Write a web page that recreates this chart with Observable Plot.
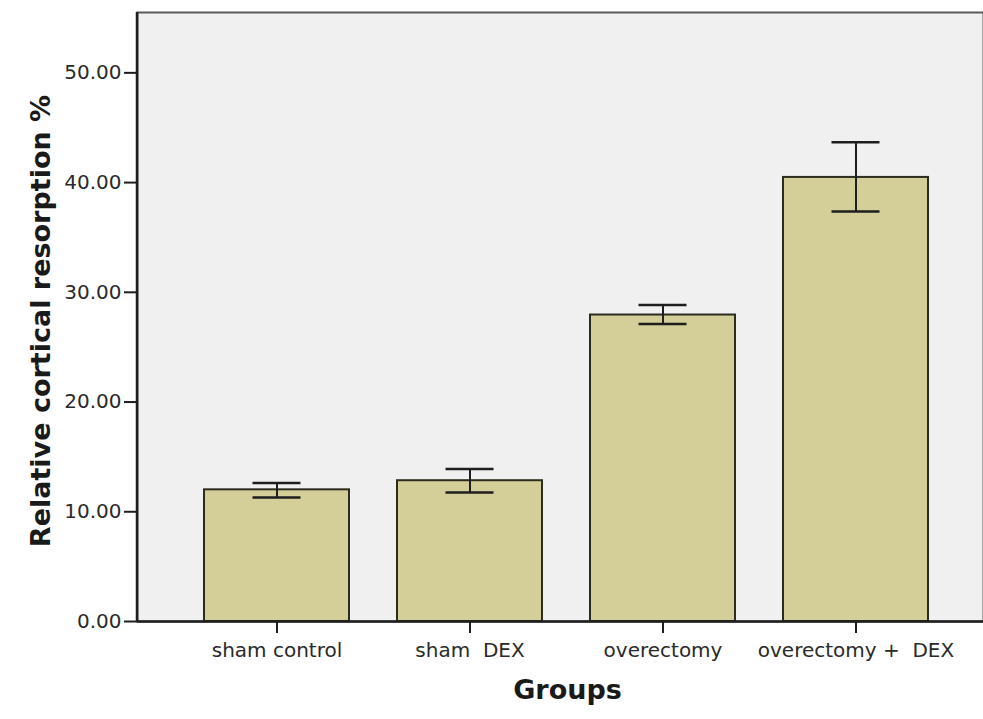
<!DOCTYPE html>
<html>
<head>
<meta charset="utf-8">
<script src="https://cdn.jsdelivr.net/npm/d3@7"></script>
<script src="https://cdn.jsdelivr.net/npm/@observablehq/plot@0.6"></script>
<style>
  html, body { margin: 0; padding: 0; background: #fff; }
  #chart svg { display: block; }
</style>
</head>
<body>
<div id="chart"></div>
<script>
const groups = ["sham control", "sham  DEX", "overectomy", "overectomy +  DEX"];
const means = [12.0, 12.83, 27.93, 40.47];
const upper = [12.62, 13.89, 28.84, 43.67];
const lower = [11.3, 11.76, 27.11, 37.37];
const yTicks = [0, 10, 20, 30, 40, 50];

const data = groups.map((g, i) => ({group: g, mean: means[i], hi: upper[i], lo: lower[i]}));

const font = "'DejaVu Sans', 'Liberation Sans', Arial, sans-serif";

// left axis line drawn along the frame's left edge
const leftAxisLine = (index, scales, values, dimensions) => {
  const {marginLeft, marginTop, height, marginBottom} = dimensions;
  const line = d3.create("svg:line")
    .attr("x1", marginLeft).attr("x2", marginLeft)
    .attr("y1", marginTop).attr("y2", height - marginBottom)
    .attr("stroke", "#1e1e1e").attr("stroke-width", 2.5);
  return line.node();
};

const chart = Plot.plot({
  width: 983,
  height: 719,
  marginLeft: 137,
  marginTop: 12,
  marginRight: 0,
  marginBottom: 98,
  style: {fontFamily: font, fontSize: "20px", color: "#222", background: "#fff"},
  x: {domain: groups, paddingInner: 0.249, paddingOuter: 0.316, align: 0.55, label: null},
  y: {domain: [0, 55.5], label: null},
  marks: [
    Plot.frame({fill: "#f0f0f0", stroke: "#5a5a5a", strokeWidth: 2}),
    Plot.barY(data, {x: "group", y: "mean", fill: "#d4cf98", stroke: "#2b2b1f", strokeWidth: 2}),
    Plot.ruleX(data, {x: "group", y1: "lo", y2: "hi", stroke: "#1e1e1e", strokeWidth: 2}),
    Plot.tickY(data, {x: "group", y: "hi", stroke: "#1e1e1e", strokeWidth: 2.5, insetLeft: 48.5, insetRight: 48.5}),
    Plot.tickY(data, {x: "group", y: "lo", stroke: "#1e1e1e", strokeWidth: 2.5, insetLeft: 48.5, insetRight: 48.5}),
    leftAxisLine,
    Plot.ruleY([0], {stroke: "#1e1e1e", strokeWidth: 2.5}),
    Plot.axisY({ticks: yTicks, tickFormat: d3.format(".2f"), tickSize: 13, tickPadding: 3, strokeWidth: 2, stroke: "#1e1e1e", fontSize: 20, fill: "#2a2a2a", label: null}),
    Plot.axisX({tickSize: 12, tickPadding: 9, strokeWidth: 2, stroke: "#1e1e1e", fontSize: 20, fill: "#2a2a2a", label: null}),
    Plot.text(["Groups"], {frameAnchor: "bottom", dx: 7, dy: 77, fontWeight: "bold", fontSize: 27, fill: "#1a1a1a"}),
    Plot.text(["Relative cortical resorption %"], {frameAnchor: "left", textAnchor: "middle", dx: -96, dy: 4, rotate: -90, fontWeight: "bold", fontSize: 27, fill: "#1a1a1a"})
  ]
});
document.getElementById("chart").appendChild(chart);
</script>
</body>
</html>
